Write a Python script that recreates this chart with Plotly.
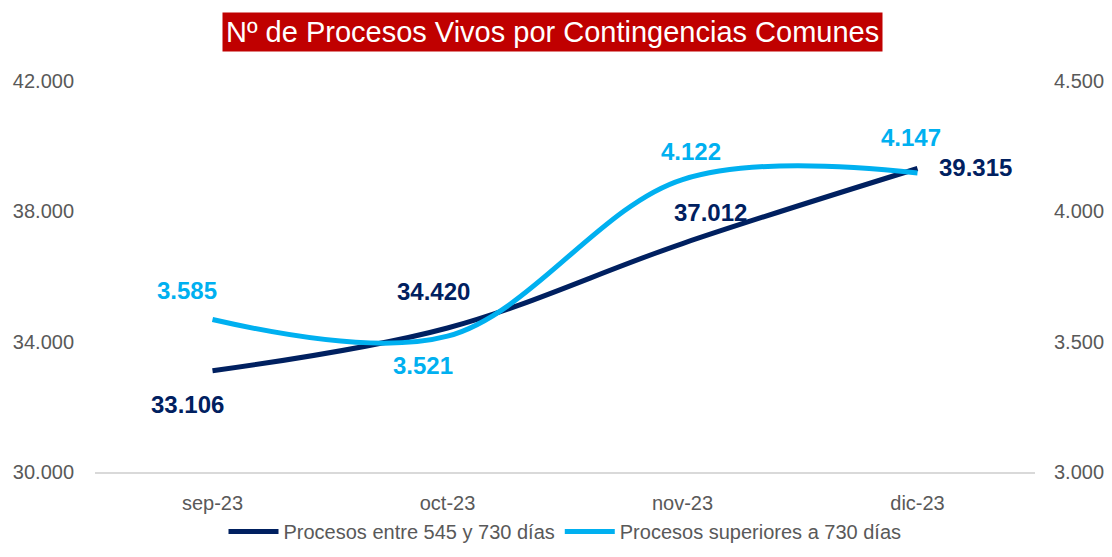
import plotly.graph_objects as go

months = ["sep-23", "oct-23", "nov-23", "dic-23"]
entre_545_730 = [33106, 34420, 37012, 39315]
superiores_730 = [3585, 3521, 4122, 4147]

left_ticks = [30000, 34000, 38000, 42000]
right_ticks = [3000, 3500, 4000, 4500]

NAVY = "#002060"
SKY = "#00B0F0"
FONT = "Liberation Sans, Arial"


def fmt(v):
    return f"{v:,}".replace(",", ".")


fig = go.Figure()

fig.add_trace(go.Scatter(
    x=months, y=entre_545_730, name="Procesos entre 545 y 730 días",
    mode="lines", line=dict(color=NAVY, width=5, shape="spline", smoothing=1),
    yaxis="y",
))
fig.add_trace(go.Scatter(
    x=months, y=superiores_730, name="Procesos superiores a 730 días",
    mode="lines", line=dict(color=SKY, width=5, shape="spline", smoothing=1),
    yaxis="y2",
))

# label offsets (px) per point
navy_off = [(-25, -34), (-14, 36), (28, 31), (58, 1)]
sky_off = [(-26, 29), (-25, -29), (8, 28), (-7, 36)]

annotations = []
for m, v, (dx, dy) in zip(months, entre_545_730, navy_off):
    annotations.append(dict(x=m, y=v, xref="x", yref="y", text=fmt(v), showarrow=False,
                            xshift=dx, yshift=dy,
                            font=dict(size=24, color=NAVY, family=FONT, weight="bold")))
for m, v, (dx, dy) in zip(months, superiores_730, sky_off):
    annotations.append(dict(x=m, y=v, xref="x", yref="y2", text=fmt(v), showarrow=False,
                            xshift=dx, yshift=dy,
                            font=dict(size=24, color=SKY, family=FONT, weight="bold")))

annotations.append(dict(
    x=0.487, y=1.074, xref="paper", yref="paper", xanchor="center", yanchor="bottom",
    text="Nº de Procesos Vivos por Contingencias Comunes", showarrow=False,
    bgcolor="#C00000", borderpad=3,
    font=dict(size=29, color="white", family=FONT),
))

tick_font = dict(size=20, color="#595959", family=FONT)

# the page body adds an 8px margin on every side, so the figure is 16px smaller than the window
fig.update_layout(
    width=1096, height=541,
    margin=dict(l=87, r=69, t=73, b=77, autoexpand=False),
    paper_bgcolor="white", plot_bgcolor="white",
    showlegend=True,
    legend=dict(orientation="h", x=0.5, xanchor="center", y=-0.152, yanchor="middle",
                font=dict(size=20, color="#595959", family=FONT),
                tracegroupgap=0, itemwidth=50),
    xaxis=dict(range=[-0.5, 3.5], showgrid=False, showline=True, linecolor="#D9D9D9",
               linewidth=2, tickfont=tick_font, ticks="", ticklabelstandoff=12,
               automargin=False),
    yaxis=dict(range=[30000, 42000], tickvals=left_ticks, ticktext=[fmt(t) for t in left_ticks],
               showgrid=False, zeroline=False, tickfont=tick_font, ticklabelstandoff=20,
               automargin=False),
    yaxis2=dict(range=[3000, 4500], tickvals=right_ticks, ticktext=[fmt(t) for t in right_ticks],
                overlaying="y", side="right", showgrid=False, zeroline=False,
                tickfont=tick_font, ticklabelstandoff=18, automargin=False),
    annotations=annotations,
)

fig.write_html("out.html")
